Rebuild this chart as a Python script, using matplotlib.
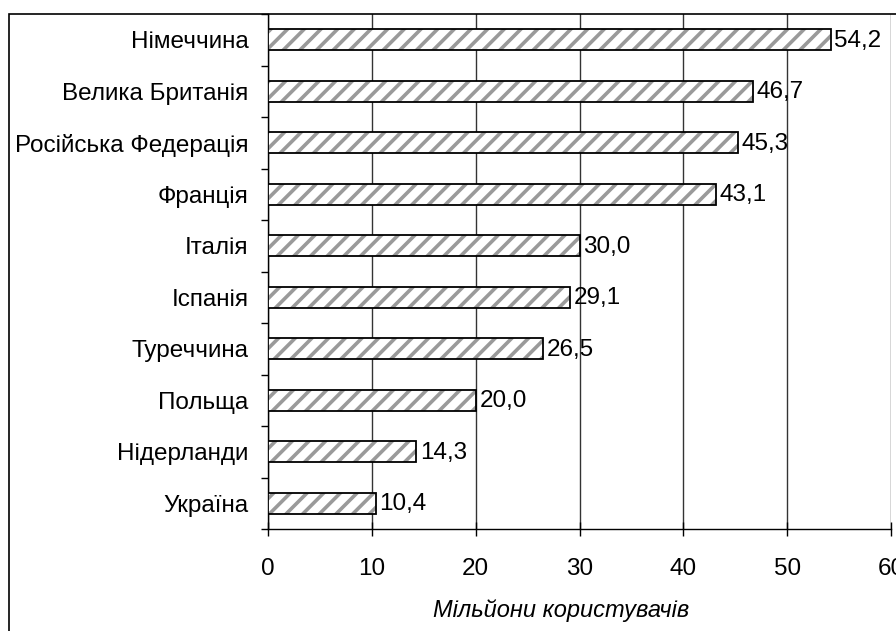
import matplotlib
matplotlib.use("Agg")
import matplotlib.pyplot as plt
from matplotlib.patches import Rectangle
import numpy as np

plt.rcParams['font.family'] = ['Liberation Sans', 'DejaVu Sans']
plt.rcParams['hatch.linewidth'] = 2.6

# data (top to bottom as in the chart)
countries = ['Німеччина', 'Велика Британія', 'Російська Федерація', 'Франція',
             'Італія', 'Іспанія', 'Туреччина', 'Польща', 'Нідерланди', 'Україна']
users = [54.2, 46.7, 45.3, 43.1, 30.0, 29.1, 26.5, 20.0, 14.3, 10.4]
x_ticks = [0, 10, 20, 30, 40, 50, 60]

fig = plt.figure(figsize=(8.96, 6.31), dpi=100)

# outer frame of the picture
fig.patches.append(Rectangle((9 / 896, -0.1), 1.2, 1 - 14 / 631 + 0.1,
                             transform=fig.transFigure, fill=False,
                             edgecolor='black', linewidth=1.2))

ax = fig.add_axes([268 / 896, 1 - 529 / 631, 623 / 896, 515 / 631])

y = np.arange(len(countries))
# gray hatch first, then black outline on top
ax.barh(y, users, height=0.41, color='white', edgecolor='#9a9a9a',
        linewidth=0, hatch='//', zorder=3)
ax.barh(y, users, height=0.41, fill=False, edgecolor='black',
        linewidth=1.3, zorder=4)

for yi, v in zip(y, users):
    ax.text(v + 0.35, yi + 0.02, f'{v:.1f}'.replace('.', ','), va='center',
            ha='left', fontsize=17.5, zorder=5)

ax.set_xlim(0, 60)
ax.set_ylim(len(countries) - 0.5, -0.5)
ax.set_xticks(x_ticks)
ax.set_yticks(y)
ax.set_yticklabels(countries, fontsize=17.5)
ax.set_yticks(np.arange(len(countries) + 1) - 0.5, minor=True)
ax.tick_params(axis='y', which='major', length=0, pad=14)
ax.tick_params(axis='y', which='minor', length=5, direction='out', width=1)
ax.tick_params(axis='x', which='major', direction='inout', length=10,
               width=1, pad=16, labelsize=17.5)

ax.grid(axis='x', color='#333333', linewidth=1, zorder=0)
for s in ['top', 'right']:
    ax.spines[s].set_visible(False)
ax.spines['left'].set_linewidth(1)
ax.spines['bottom'].set_linewidth(1)

ax.set_xlabel('Мільйони користувачів', fontsize=17, style='italic')
ax.xaxis.set_label_coords((561 - 268) / 623, (529 - 611) / 515)
ax.xaxis.label.set_va('center')

fig.savefig('out.png', dpi=100)
